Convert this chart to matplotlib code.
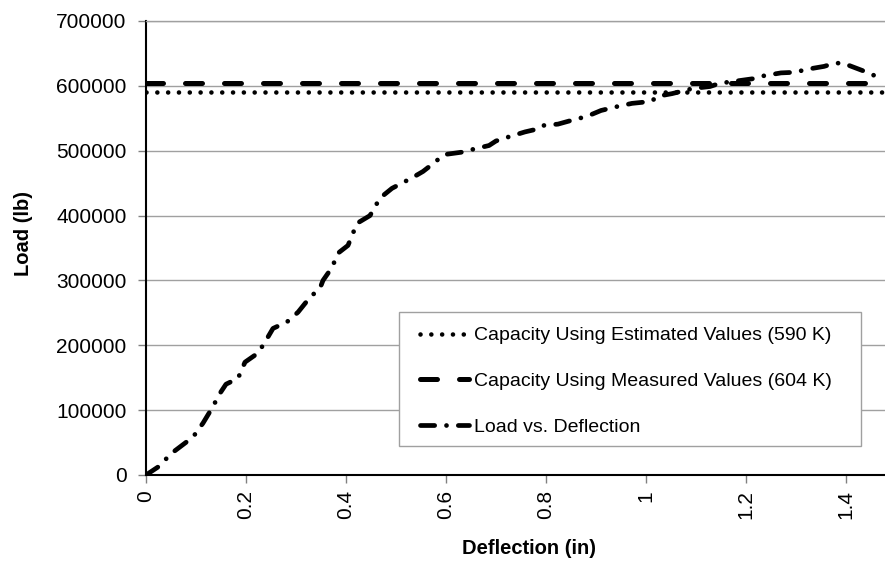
import matplotlib
matplotlib.use("Agg")
import matplotlib.pyplot as plt
from matplotlib.patches import Rectangle

# ---- data ----
deflection = [0, 0.024, 0.052, 0.094, 0.114, 0.132, 0.148, 0.160, 0.184, 0.198,
              0.224, 0.238, 0.254, 0.282, 0.304, 0.328, 0.348, 0.354, 0.372, 0.384,
              0.404, 0.422, 0.448, 0.468, 0.492, 0.534, 0.554, 0.574, 0.596, 0.634,
              0.658, 0.686, 0.700, 0.724, 0.758, 0.786, 0.796, 0.824, 0.852, 0.882,
              0.910, 0.942, 0.972, 1.010, 1.024, 1.052, 1.094, 1.128, 1.148, 1.186,
              1.214, 1.232, 1.270, 1.300, 1.318, 1.356, 1.378, 1.394, 1.452, 1.458]
load = [0, 12300, 34000, 58500, 80000, 103000, 126000, 140000, 149000, 174000,
        188000, 205000, 226000, 236000, 251000, 274000, 288000, 300000, 320000, 342000,
        354000, 388000, 400000, 427000, 442000, 459000, 468000, 480000, 494000, 498000,
        503000, 508000, 515000, 521000, 529000, 534000, 539000, 541000, 547000, 553000,
        562000, 568000, 573000, 576000, 584000, 588000, 596000, 599000, 604000, 608000,
        611000, 615000, 620000, 621000, 625000, 630000, 635000, 635000, 618000, 615000]
cap_estimated = 590000
cap_measured = 604000
label_est = "Capacity Using Estimated Values (590 K)"
label_meas = "Capacity Using Measured Values (604 K)"
label_load = "Load vs. Deflection"
xticks = [0, 0.2, 0.4, 0.6, 0.8, 1, 1.2, 1.4]
xticklabels = ["0", "0.2", "0.4", "0.6", "0.8", "1", "1.2", "1.4"]
yticks = [0, 100000, 200000, 300000, 400000, 500000, 600000, 700000]

plt.rcParams['font.family'] = ['Liberation Sans', 'DejaVu Sans']

fig = plt.figure(figsize=(8.85, 5.63), dpi=100)
ax = fig.add_axes([146/885, 1-475/563, 1-146/885, (475-21)/563])

xmax = 1.478
ax.plot([0, xmax], [cap_estimated]*2, color='black', lw=3.3,
        dashes=(0.01, 2.35), dash_capstyle='round', label=label_est, zorder=3)
ax.plot([0, xmax], [cap_measured]*2, color='black', lw=3.6,
        dashes=(3.4, 4.4), dash_capstyle='round', label=label_meas, zorder=3)
ax.plot(deflection, load, color='black', lw=3.4,
        dashes=(3.0, 2.5, 0.01, 2.5), dash_capstyle='round', label=label_load, zorder=4)

ax.set_xlim(0, xmax)
ax.set_ylim(0, 700000)
ax.set_xticks(xticks)
ax.set_xticklabels(xticklabels, rotation=90)
ax.set_yticks(yticks)
ax.set_yticklabels([str(v) for v in yticks])
ax.tick_params(axis='both', labelsize=15, length=6, width=1, color='#808080',
               direction='out')
ax.tick_params(axis='y', pad=8)
ax.tick_params(axis='x', pad=5)

ax.yaxis.grid(True, color='#a0a0a0', lw=1)
ax.set_axisbelow(True)
ax.spines['right'].set_visible(False)
ax.spines['top'].set_color('#a0a0a0')
ax.spines['top'].set_linewidth(1)
ax.spines['left'].set_color('black')
ax.spines['left'].set_linewidth(1.5)
ax.spines['bottom'].set_color('black')
ax.spines['bottom'].set_linewidth(1.5)

aw = 885 - 146
ah = 475 - 21
ax.set_xlabel("Deflection (in)", fontsize=14.5, fontweight='bold')
ax.set_ylabel("Load (lb)", fontsize=14.5, fontweight='bold')
ax.xaxis.set_label_coords((529 - 146) / aw, (475 - 539) / ah)
ax.yaxis.set_label_coords((33 - 146) / aw, (475 - 234) / ah)

# legend frame
x0 = (399 - 146) / aw
x1 = (861 - 146) / aw
y0 = (475 - 446) / ah
y1 = (475 - 312) / ah
ax.add_patch(Rectangle((x0, y0), x1 - x0, y1 - y0, transform=ax.transAxes,
                       facecolor='white', edgecolor='#a0a0a0', lw=1, zorder=5))
leg = ax.legend(loc='upper left', bbox_to_anchor=((423 - 146) / aw - 0.012, (475 - 321) / ah),
                frameon=False, fontsize=14, handlelength=2.5, handletextpad=0.3,
                labelspacing=1.45, borderpad=0.3, borderaxespad=0)
leg.set_zorder(6)

fig.savefig("out.png", dpi=100)
